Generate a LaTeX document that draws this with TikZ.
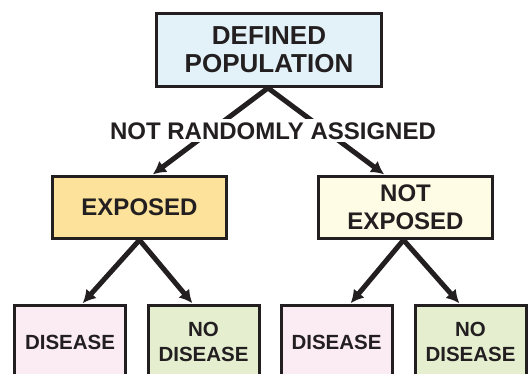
\documentclass[tikz,border=0pt]{standalone}
\usepackage{fontspec}
\setsansfont{Liberation Sans}
\usepackage{tikz}
\usetikzlibrary{positioning,arrows.meta}
\usepackage{xcolor}
\definecolor{ink}{RGB}{35,31,32}
\definecolor{popfill}{RGB}{227,242,248}
\definecolor{expfill}{RGB}{252,226,154}
\definecolor{noexpfill}{RGB}{254,252,228}
\definecolor{disfill}{RGB}{251,235,243}
\definecolor{nodisfill}{RGB}{229,239,208}

\begin{document}
\begin{tikzpicture}[x=1pt,y=1pt,font=\bfseries\sffamily]
\tikzset{
  BX/.style={draw=ink,line width=3pt,rectangle,align=center,text=ink,inner sep=2pt},
  PO/.style={BX,fill=popfill,minimum width=225pt,minimum height=73pt,font=\fontsize{26}{28}\bfseries\sffamily},
  EX/.style={BX,fill=expfill,minimum width=174pt,minimum height=62pt,font=\fontsize{24}{28}\bfseries\sffamily},
  NE/.style={BX,fill=noexpfill,minimum width=174pt,minimum height=62pt,font=\fontsize{24}{28}\bfseries\sffamily},
  DI/.style={BX,fill=disfill,minimum width=111pt,minimum height=73pt,font=\fontsize{20.5}{25}\bfseries\sffamily},
  ND/.style={BX,fill=nodisfill,minimum width=111pt,minimum height=73pt,font=\fontsize{20.5}{25}\bfseries\sffamily},
  AR/.style={-{Latex[length=13pt,width=14pt]},line width=5pt,ink,shorten >=1pt},
  lb/.style={font=\fontsize{24}{28}\bfseries\sffamily,text=ink,fill=white,inner sep=3pt},
}
\useasboundingbox (0,0) rectangle (529,374);
\clip (0,0) rectangle (529,374);

\node[PO](pop) at (269,324){DEFINED\\POPULATION};

\node[EX](expo)  at (139.5,166.5){EXPOSED};
\node[NE](noexp) at (405.5,166.5){NOT\\EXPOSED};

\node[DI](dis1)   at (70,32){DISEASE};
\node[ND](nodis1) at (203.5,32){NO\\DISEASE};
\node[DI](dis2)   at (336.5,32){DISEASE};
\node[ND](nodis2) at (470.5,32){NO\\DISEASE};

\draw[AR]([xshift=-1pt]pop.south)--([xshift=12.5pt]expo.north);
\draw[AR]([xshift=-1pt]pop.south)--([xshift=-20.5pt]noexp.north);
\node[lb](assign) at (273,243){NOT RANDOMLY ASSIGNED};

\draw[AR](expo.south)--([xshift=12pt]dis1.north);
\draw[AR](expo.south)--([xshift=-10.5pt]nodis1.north);
\draw[AR]([xshift=-2pt]noexp.south)--([xshift=13.5pt]dis2.north);
\draw[AR]([xshift=-2pt]noexp.south)--([xshift=-10.5pt]nodis2.north);

\end{tikzpicture}
\end{document}
